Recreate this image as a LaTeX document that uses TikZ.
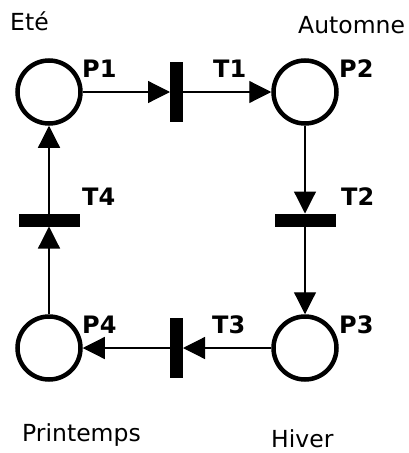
\documentclass[tikz,border=0pt]{standalone}
\usepackage{fontspec}
\setmainfont{DejaVu Sans}
\usetikzlibrary{arrows.meta}
\tikzset{
  place/.style={circle,draw,line width=4.5pt,minimum size=63pt,inner sep=0pt},
  vtrans/.style={rectangle,fill=black,minimum width=13pt,minimum height=60pt,inner sep=0pt,outer sep=0pt},
  htrans/.style={rectangle,fill=black,minimum width=61pt,minimum height=13pt,inner sep=0pt,outer sep=0pt},
  arc/.style={line width=1.2pt,-{Triangle[length=22pt,width=22pt]}},
  lbl/.style={anchor=base west,inner sep=0pt,font=\fontsize{24}{28}\selectfont\bfseries},
  season/.style={anchor=base west,inner sep=0pt,font=\fontsize{23.5}{28}\selectfont}
}
\begin{document}
\begin{tikzpicture}[x=1pt,y=-1pt]
\useasboundingbox (0,0) rectangle (409,453);
\node[place] (P1) at (49,92) {};
\node[place] (P2) at (305,92) {};
\node[place] (P3) at (305,348) {};
\node[place] (P4) at (49,348) {};
\node[vtrans] (T1) at (176.5,92) {};
\node[htrans] (T2) at (305,220) {};
\node[vtrans] (T3) at (176.5,348) {};
\node[htrans] (T4) at (49,220) {};
\draw[arc] (P1) -- (T1.west);
\draw[arc] (T1) -- (P2);
\draw[arc] (P2) -- (T2.north);
\draw[arc] (T2) -- (P3);
\draw[arc] (P3) -- (T3.east);
\draw[arc] (T3) -- (P4);
\draw[arc] (P4) -- (T4.south);
\draw[arc] (T4) -- (P1);
\node[lbl] (lP1) at (82,77) {P1};
\node[lbl] (lT1) at (213,77) {T1};
\node[lbl] (lP2) at (339,77) {P2};
\node[lbl] (lT4) at (82,205) {T4};
\node[lbl] (lT2) at (341,205) {T2};
\node[lbl] (lP4) at (82,333) {P4};
\node[lbl] (lT3) at (212,333) {T3};
\node[lbl] (lP3) at (339,333) {P3};
\node[season] (ete) at (10,30) {Eté};
\node[season] (aut) at (298,33) {Automne};
\node[season] (pri) at (22,441) {Printemps};
\node[season] (hiv) at (271,447) {Hiver};
\end{tikzpicture}
\end{document}
